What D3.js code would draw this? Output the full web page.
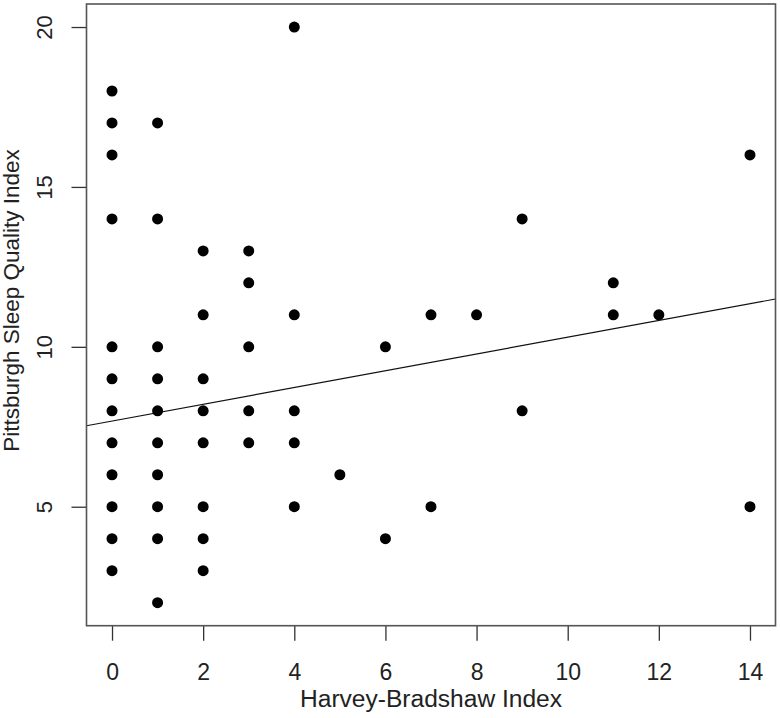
<!DOCTYPE html>
<html>
<head>
<meta charset="utf-8">
<script src="https://cdn.jsdelivr.net/npm/d3@7"></script>
<style>
    body { margin: 0; background: #fff; }
    svg text { font-family: "Liberation Sans", Arial, sans-serif; fill: #222; }
</style>
</head>
<body>
<svg class="scatter" width="780" height="718"></svg>
<script>
// Harvey-Bradshaw Index (x) and Pittsburgh Sleep Quality Index (y)
const hbi = [0, 0, 0, 0, 0, 0, 0, 0, 0, 0, 0, 0,
             1, 1, 1, 1, 1, 1, 1, 1, 1, 1,
             2, 2, 2, 2, 2, 2, 2, 2,
             3, 3, 3, 3, 3,
             4, 4, 4, 4, 4,
             5, 6, 6, 7, 7, 8, 9, 9, 11, 11, 12, 14, 14];
const psqi = [18, 17, 16, 14, 10, 9, 8, 7, 6, 5, 4, 3,
              17, 14, 10, 9, 8, 7, 6, 5, 4, 2,
              13, 11, 9, 8, 7, 5, 4, 3,
              13, 12, 10, 8, 7,
              20, 11, 8, 7, 5,
              6, 10, 4, 11, 5, 11, 14, 8, 12, 11, 11, 16, 5];

// fitted line: intercept, slope
const fitCoef = [7.68, 0.262];

const xTicks = [0, 2, 4, 6, 8, 10, 12, 14];
const yTicks = [5, 10, 15, 20];
const xDomain = [-0.56, 14.56];
const yDomain = [1.28, 20.72];

let svg = d3.select('.scatter');
const MARGIN = {left: 86.5, right: 4.5, bottom: 92.3, top: 4};
const WIDTH = 780, HEIGHT = 718;

let xScale = d3.scaleLinear()
    .domain(xDomain)
    .range([MARGIN.left, WIDTH - MARGIN.right]);
let yScale = d3.scaleLinear()
    .domain(yDomain)
    .range([HEIGHT - MARGIN.bottom, MARGIN.top]);

// x axis
let xAxis = svg.append('g')
    .attr('id', 'x-axis')
    .attr('transform', `translate(0,${HEIGHT - MARGIN.bottom})`)
    .call(d3.axisBottom(xScale).tickValues(xTicks).tickSize(15).tickFormat(d3.format('d')));
xAxis.select('.domain').remove();
xAxis.selectAll('line').attr('stroke', '#333').attr('stroke-width', 1.3);
xAxis.selectAll('text')
    .attr('y', 54.3)
    .attr('dy', 0)
    .attr('font-size', 23)
    .attr('font-family', null)
    .attr('fill', '#222');

// y axis
let yAxis = svg.append('g')
    .attr('id', 'y-axis')
    .attr('transform', `translate(${MARGIN.left},0)`)
    .call(d3.axisLeft(yScale).tickValues(yTicks).tickSize(15).tickFormat(d3.format('d')));
yAxis.select('.domain').remove();
yAxis.selectAll('line').attr('stroke', '#333').attr('stroke-width', 1.3);
yAxis.selectAll('text')
    .attr('x', null)
    .attr('dy', 0)
    .attr('text-anchor', 'middle')
    .attr('font-size', 22)
    .attr('font-family', null)
    .attr('fill', '#222')
    .attr('transform', 'translate(-35,0) rotate(-90)');

// fitted line
svg.append('clipPath').attr('id', 'plotClip')
    .append('rect')
    .attr('x', xScale(xDomain[0]))
    .attr('y', yScale(yDomain[1]))
    .attr('width', xScale(xDomain[1]) - xScale(xDomain[0]))
    .attr('height', yScale(yDomain[0]) - yScale(yDomain[1]));

svg.append('line')
    .attr('clip-path', 'url(#plotClip)')
    .attr('x1', xScale(xDomain[0]))
    .attr('y1', yScale(fitCoef[0] + fitCoef[1] * xDomain[0]))
    .attr('x2', xScale(xDomain[1]))
    .attr('y2', yScale(fitCoef[0] + fitCoef[1] * xDomain[1]))
    .attr('stroke', '#111')
    .attr('stroke-width', 1.2);

// points
svg.append('g')
    .attr('id', 'points')
    .selectAll('circle')
    .data(hbi.map((d, i) => [d, psqi[i]]))
    .join('circle')
    .attr('cx', d => xScale(d[0]))
    .attr('cy', d => yScale(d[1]))
    .attr('r', 5.5)
    .attr('fill', '#000');

// box
svg.append('rect')
    .attr('x', xScale(xDomain[0]))
    .attr('y', yScale(yDomain[1]))
    .attr('width', xScale(xDomain[1]) - xScale(xDomain[0]))
    .attr('height', yScale(yDomain[0]) - yScale(yDomain[1]))
    .attr('fill', 'none')
    .attr('stroke', '#555')
    .attr('stroke-width', 1.6);

// axis titles
svg.append('text')
    .attr('x', (xScale(xDomain[0]) + xScale(xDomain[1])) / 2)
    .attr('y', 707)
    .attr('text-anchor', 'middle')
    .attr('font-size', 23)
    .attr('textLength', 262)
    .attr('lengthAdjust', 'spacingAndGlyphs')
    .text('Harvey-Bradshaw Index');

svg.append('text')
    .attr('transform', `translate(18.5,300.5) rotate(-90)`)
    .attr('text-anchor', 'middle')
    .attr('font-size', 22.5)
    .text('Pittsburgh Sleep Quality Index');
</script>
</body>
</html>
